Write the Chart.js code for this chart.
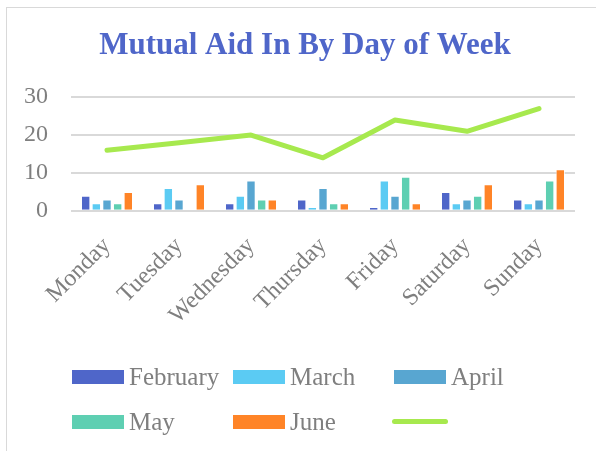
<!DOCTYPE html>
<html>
<head>
<meta charset="utf-8">
<script src="https://cdn.jsdelivr.net/npm/chart.js@4/dist/chart.umd.min.js"></script>
<style>
    html, body { margin: 0; padding: 0; background: #fff; }
    #wrap { position: relative; width: 596px; height: 451px; overflow: hidden; }
    #frame { position: absolute; left: 6px; top: 7px; width: 620px; height: 480px; border: 1px solid #d9d9d9; box-sizing: border-box; }
    #chart { position: absolute; left: 0; top: 0; }
    #legend { position: absolute; left: 0; top: 0; width: 596px; height: 451px; font-family: 'Liberation Serif', serif; font-size: 25px; color: #7f7f7f; }
    .item { position: absolute; height: 28px; line-height: 28px; white-space: nowrap; }
    .item .box { position: absolute; left: 0; top: 7px; width: 52px; height: 14px; }
    .item .txt { position: absolute; left: 57px; top: 0; }
    .item .ln { position: absolute; left: 0; top: 11px; width: 56px; height: 5px; border-radius: 3px; }
</style>
</head>
<body>
<div id="wrap">
    <div id="frame"></div>
    <canvas id="chart" width="596" height="451"></canvas>
    <div id="legend"></div>
</div>
<script>
/* Mutual Aid In By Day of Week — grouped bars + total line */

const days = ['Monday', 'Tuesday', 'Wednesday', 'Thursday', 'Friday', 'Saturday', 'Sunday'];

const february = [4, 2, 2, 3, 1, 5, 3];
const march    = [2, 6, 4, 1, 8, 2, 2];
const april    = [3, 3, 8, 6, 4, 3, 3];
const may      = [2, 0, 3, 2, 9, 4, 8];
const june     = [5, 7, 3, 2, 2, 7, 11];
const total    = [16, 18, 20, 14, 24, 21, 27];

const yTicks = [0, 10, 20, 30];

const GREY = '#7f7f7f';
const FONT = "'Liberation Serif', 'Times New Roman', serif";

const barSeries = [
    { label: 'February', data: february, color: '#4f66c9' },
    { label: 'March',    data: march,    color: '#5bcbf3' },
    { label: 'April',    data: april,    color: '#58a6d1' },
    { label: 'May',      data: may,      color: '#5ecfb2' },
    { label: 'June',     data: june,     color: '#ff8427' }
];
const lineColor = '#a7e94e';

const datasets = barSeries.map(s => ({
    type: 'bar',
    label: s.label,
    data: s.data,
    backgroundColor: s.color,
    borderColor: 'rgba(255,255,255,0.7)',
    borderWidth: 1,
    categoryPercentage: 0.74,
    barPercentage: 0.88,
    order: 2
}));

datasets.push({
    type: 'line',
    label: '',
    data: total,
    borderColor: lineColor,
    backgroundColor: lineColor,
    borderWidth: 5,
    borderCapStyle: 'round',
    borderJoinStyle: 'round',
    pointRadius: 0,
    tension: 0,
    order: 1
});

new Chart(document.getElementById('chart'), {
    data: { labels: days, datasets },
    options: {
        responsive: false,
        animation: false,
        layout: { padding: { left: 22, right: 8, top: 18, bottom: 108 } },
        scales: {
            x: {
                grid: { display: false },
                border: { display: false },
                afterFit: axis => { axis.paddingLeft = 0; axis.paddingRight = 21; },
                ticks: {
                    color: GREY,
                    font: { family: FONT, size: 24 },
                    minRotation: 45,
                    maxRotation: 45,
                    padding: 13
                }
            },
            y: {
                min: 0,
                max: 30,
                afterBuildTicks: axis => { axis.ticks = yTicks.map(v => ({ value: v })); },
                afterFit: axis => { axis.width = 49; },
                grid: { color: '#d9d9d9', lineWidth: 2, drawTicks: false },
                border: { display: false },
                ticks: {
                    color: GREY,
                    font: { family: FONT, size: 24 },
                    padding: 23
                }
            }
        },
        plugins: {
            legend: { display: false },
            tooltip: { enabled: false },
            title: {
                display: true,
                text: 'Mutual Aid In By Day of Week',
                color: '#4f66c9',
                font: { family: FONT, size: 31, weight: 'bold' },
                padding: { top: 9, bottom: 33 }
            }
        }
    }
});

// legend laid out as a 3-column grid like the original
const legendEl = document.getElementById('legend');
const cols = [72, 233, 394];
const rows = [363, 408];
const entries = barSeries.map(s => ({ label: s.label, color: s.color, kind: 'box' }));
entries.push({ label: '', color: lineColor, kind: 'line' });
entries.forEach((e, i) => {
    const item = document.createElement('div');
    item.className = 'item';
    item.style.left = (cols[i % 3] - (e.kind === 'line' ? 2 : 0)) + 'px';
    item.style.top = rows[Math.floor(i / 3)] + 'px';
    const mark = document.createElement('span');
    mark.className = e.kind === 'line' ? 'ln' : 'box';
    mark.style.background = e.color;
    item.appendChild(mark);
    if (e.label) {
        const t = document.createElement('span');
        t.className = 'txt';
        t.textContent = e.label;
        item.appendChild(t);
    }
    legendEl.appendChild(item);
});
</script>
</body>
</html>
